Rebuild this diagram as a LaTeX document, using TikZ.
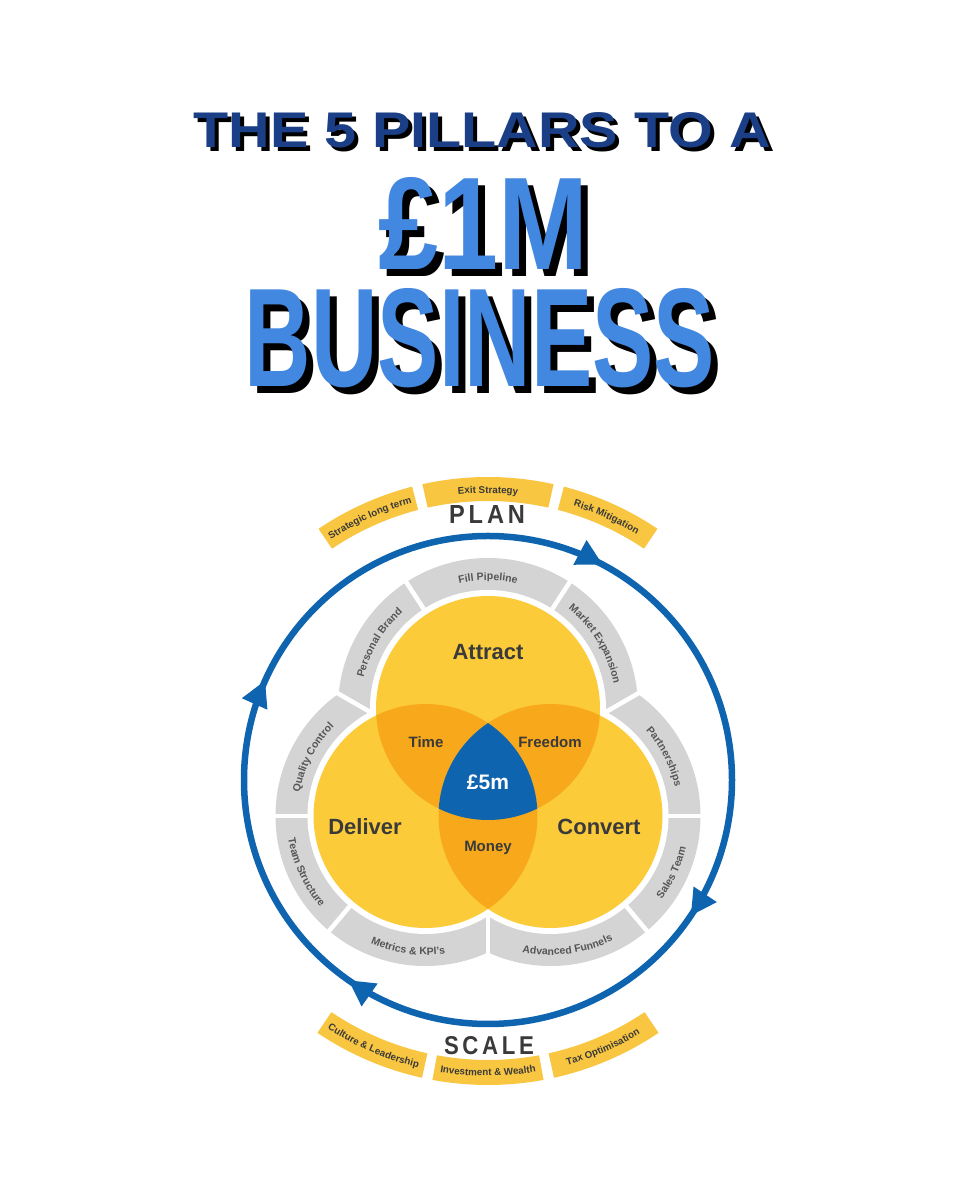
\documentclass[tikz,border=0pt]{standalone}
\usepackage{fontspec}
\setmainfont{Liberation Sans}
\usetikzlibrary{arrows.meta,decorations.markings,decorations.text,calc}
\definecolor{navy}{HTML}{1B3F86}
\definecolor{lblue}{HTML}{4287E0}
\definecolor{vyel}{HTML}{FCCB3A}
\definecolor{vorg}{HTML}{F7A81B}
\definecolor{vblue}{HTML}{0F64AF}
\definecolor{gband}{HTML}{D4D4D4}
\definecolor{yband}{HTML}{F8C640}
\definecolor{dtext}{HTML}{3A3A3A}
\definecolor{gtext}{HTML}{555555}
\newcommand\bandseg[6]{\fill[#6] ([shift={(#2:#5)}]#1) arc[start angle=#2,end angle=#3,radius=#5] -- ([shift={(#3:#4)}]#1) arc[start angle=#3,end angle=#2,radius=#4] -- cycle;}
\newcommand\arctext[6]{\path[decorate,decoration={text along path,text align=center,text={|#6|#5}}] ([shift={(#2:#4)}]#1) arc[start angle=#2,end angle=#3,radius=#4];}
\newcommand\gfont{\fontsize{10.5}{11}\selectfont\bfseries\color{gtext}}
\newcommand\yfont{\fontsize{9.8}{10}\selectfont\bfseries\color{dtext}}
\begin{document}
\begin{tikzpicture}[x=1pt,y=1pt,
  lbl/.style={font=\bfseries,text=dtext,inner sep=0pt},
  sep/.style={white,line width=4.5pt}]
\fill[white] (0,0) rectangle (960,1200);
\useasboundingbox (0,0) rectangle (960,1200);
% title
\node[inner sep=0pt,text=black] (t1s) at (486,1066) {\resizebox{577pt}{35pt}{\bfseries THE 5 PILLARS TO A}};
\node[inner sep=0pt,text=navy] (t1) at (482,1070) {\resizebox{577pt}{35pt}{\bfseries THE 5 PILLARS TO A}};
\node[inner sep=0pt,text=black] (t2s) at (490,970) {\resizebox{210pt}{92pt}{\bfseries £1M}};
\node[inner sep=0pt,text=lblue] (t2) at (483,977) {\resizebox{210pt}{92pt}{\bfseries £1M}};
\node[inner sep=0pt,text=black] (t3s) at (487,855) {\resizebox{470pt}{98pt}{\bfseries BUSINESS}};
\node[inner sep=0pt,text=lblue] (t3) at (480,862) {\resizebox{470pt}{98pt}{\bfseries BUSINESS}};
% centres
\coordinate (A) at (488,492);
\coordinate (D) at (425.5,384);
\coordinate (C) at (550.5,384);
\coordinate (B) at (488,420);
% gray bands
\fill[gband] (A) circle[radius=150] (D) circle[radius=150] (C) circle[radius=150];
\fill[white] (A) circle[radius=118] (D) circle[radius=118] (C) circle[radius=118];
\foreach \a in {57,123} \draw[sep] ([shift={(\a:110)}]A) -- ([shift={(\a:156)}]A);
\foreach \a in {180,230} \draw[sep] ([shift={(\a:110)}]D) -- ([shift={(\a:156)}]D);
\foreach \a in {0,-50} \draw[sep] ([shift={(\a:110)}]C) -- ([shift={(\a:156)}]C);
\coordinate (pAD) at (338.6,506.2);
\coordinate (pAC) at (637.4,506.2);
\coordinate (pDC) at (488,247.6);
\draw[sep] ($(pAD)+(-8.7,5)$) -- ($(pAD)+(43.3,-25)$);
\draw[sep] ($(pAC)+(8.7,5)$) -- ($(pAC)+(-43.3,-25)$);
\draw[sep] ($(pDC)+(0,-10)$) -- ($(pDC)+(0,45)$);
% band texts
\arctext{A}{175}{123}{128}{Personal Brand}{\gfont}
\arctext{A}{123}{57}{128}{Fill Pipeline}{\gfont}
\arctext{A}{57}{5}{128}{Market Expansion}{\gfont}
\arctext{D}{180}{125}{128}{Quality Control}{\gfont}
\arctext{D}{180}{230}{139}{Team Structure}{\gfont}
\arctext{D}{230}{295}{139}{Metrics {\&} KPI's}{\gfont}
\arctext{C}{245}{310}{139}{Advanced Funnels}{\gfont}
\arctext{C}{310}{360}{139}{Sales Team}{\gfont}
\arctext{C}{55}{0}{128}{Partnerships}{\gfont}
% venn
\fill[vyel] (A) circle[radius=112] (D) circle[radius=112] (C) circle[radius=112];
\begin{scope}\clip (A) circle[radius=112]; \fill[vorg] (D) circle[radius=112] (C) circle[radius=112];\end{scope}
\begin{scope}\clip (D) circle[radius=112]; \fill[vorg] (C) circle[radius=112];\end{scope}
\begin{scope}\clip (A) circle[radius=112]; \clip (D) circle[radius=112]; \fill[vblue] (C) circle[radius=112];\end{scope}
\node[lbl,font=\fontsize{22}{24}\selectfont\bfseries] (attract) at (488,548) {Attract};
\node[lbl,font=\fontsize{22}{24}\selectfont\bfseries] (deliver) at (365,373) {Deliver};
\node[lbl,font=\fontsize{22}{24}\selectfont\bfseries] (convert) at (599,373) {Convert};
\node[lbl,font=\fontsize{15}{16}\selectfont\bfseries] (time) at (426,458) {Time};
\node[lbl,font=\fontsize{15}{16}\selectfont\bfseries] (freedom) at (550,458) {Freedom};
\node[lbl,font=\fontsize{15}{16}\selectfont\bfseries] (money) at (488,352) {Money};
\node[lbl,text=white,font=\fontsize{21}{24}\selectfont\bfseries] (five) at (488,418) {£5m};
% blue cycle
\draw[vblue,line width=6.5pt,postaction={decorate},decoration={markings,
  mark=at position 0.078 with {\arrow{Triangle[length=26pt,width=26pt]}},
  mark=at position 0.344 with {\arrow{Triangle[length=26pt,width=26pt]}},
  mark=at position 0.597 with {\arrow{Triangle[length=26pt,width=26pt]}},
  mark=at position 0.817 with {\arrow{Triangle[length=26pt,width=26pt]}}}]
  ([shift={(90:244)}]B) arc[start angle=90,end angle=-270,radius=244];
% yellow bands
\bandseg{B}{124}{104.5}{279}{303}{yband}
\bandseg{B}{102.5}{77.5}{279}{303}{yband}
\bandseg{B}{75.5}{56}{279}{303}{yband}
\bandseg{B}{236}{257.5}{280}{305}{yband}
\bandseg{B}{259.5}{280.5}{280}{305}{yband}
\bandseg{B}{282.5}{304}{280}{305}{yband}
\arctext{B}{124}{104.5}{287}{Strategic long term}{\yfont}
\arctext{B}{102.5}{77.5}{287}{Exit Strategy}{\yfont}
\arctext{B}{75.5}{56}{287}{Risk Mitigation}{\yfont}
\arctext{B}{236}{257.5}{296}{Culture {\&} Leadership}{\yfont}
\arctext{B}{259.5}{280.5}{296}{Investment {\&} Wealth}{\yfont}
\arctext{B}{282.5}{304}{296}{Tax Optimisation}{\yfont}
\node[inner sep=0pt,text=dtext] (plan) at (487,685) {\resizebox{76pt}{18pt}{\bfseries P\,L\,A\,N}};
\node[inner sep=0pt,text=dtext] (scale) at (489,154) {\resizebox{90pt}{18pt}{\bfseries S\,C\,A\,L\,E}};
\end{tikzpicture}
\end{document}
